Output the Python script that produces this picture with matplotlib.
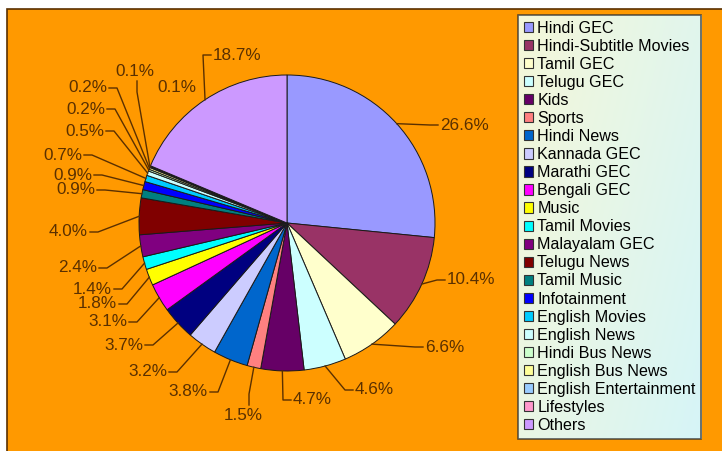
import numpy as np
import matplotlib
matplotlib.use("Agg")
import matplotlib.pyplot as plt
from matplotlib.patches import Patch, Rectangle

plt.rcParams['font.family'] = ['Liberation Sans', 'DejaVu Sans']

channels = ["Hindi GEC", "Hindi-Subtitle Movies", "Tamil GEC", "Telugu GEC", "Kids",
            "Sports", "Hindi News", "Kannada GEC", "Marathi GEC", "Bengali GEC", "Music",
            "Tamil Movies", "Malayalam GEC", "Telugu News", "Tamil Music", "Infotainment",
            "English Movies", "English News", "Hindi Bus News", "English Bus News",
            "English Entertainment", "Lifestyles", "Others"]
share = [26.6, 10.4, 6.6, 4.6, 4.7, 1.5, 3.8, 3.2, 3.7, 3.1, 1.8, 1.4, 2.4, 4.0,
         0.9, 0.9, 0.7, 0.5, 0.2, 0.2, 0.1, 0.1, 18.7]
colors = ["#9999FF", "#993366", "#FFFFCC", "#CCFFFF", "#660066", "#FF8080", "#0066CC",
          "#CCCCFF", "#000080", "#FF00FF", "#FFFF00", "#00FFFF", "#800080", "#800000",
          "#008080", "#0000FF", "#00CCFF", "#CCFFFF", "#CCFFCC", "#FFFF99", "#99CCFF",
          "#FF99CC", "#CC99FF"]

# label placement (pixels): x of the side facing the pie, y, side
label_pos = [(440, 125, "left"), (447, 280, "left"), (425, 347, "left"),
             (355, 390, "left"), (293, 400, "left"), (243, 416, "below"),
             (208, 392, "right"), (167, 372, "right"), (143, 345, "right"),
             (127, 322, "right"), (117, 304, "right"), (112, 289, "right"),
             (97, 268, "right"), (88, 232, "right"), (95, 190, "right"),
             (92, 175, "right"), (82, 155, "right"), (104, 131, "right"),
             (105, 109, "right"), (107, 88, "right"), (135, 72, "above"),
             (157, 88, "none"), (213, 55, "left")]

W, H = 722, 451
cx, cy, r = 287, 223, 148
txt_col = "#5a3000"
fs = 12.3

fig = plt.figure(figsize=(W / 100, H / 100), dpi=100, facecolor="white")
ax = fig.add_axes([0, 0, 1, 1])
ax.axis("off")

ax.add_patch(Rectangle((7, 9), W, H, facecolor="#FF9900", edgecolor="#5a3000",
                       lw=1.2, zorder=0))

wedges, _ = ax.pie(share, colors=colors, startangle=-90, counterclock=True,
                   center=(cx, cy), radius=r,
                   wedgeprops=dict(edgecolor="#1a1a1a", linewidth=0.7))
for w in wedges:
    w.set_zorder(2)

ax.set_xlim(0, W)
ax.set_ylim(H, 0)
ax.set_aspect("auto")

for w, v, (tx, ty, side) in zip(wedges, share, label_pos):
    mid = np.deg2rad((w.theta1 + w.theta2) / 2)
    ex, ey = cx + r * np.cos(mid), cy + r * np.sin(mid)
    s = f"{v:.1f}%"
    if side == "left":
        ax.text(tx, ty, s, ha="left", va="center", fontsize=fs, color=txt_col, zorder=3)
        ax.plot([ex, tx - 10, tx - 2], [ey, ty, ty], color=txt_col, lw=1, zorder=3)
    elif side == "right":
        ax.text(tx, ty, s, ha="right", va="center", fontsize=fs, color=txt_col, zorder=3)
        ax.plot([ex, tx + 10, tx + 2], [ey, ty, ty], color=txt_col, lw=1, zorder=3)
    elif side == "below":
        ax.text(tx, ty, s, ha="center", va="center", fontsize=fs, color=txt_col, zorder=3)
        ax.plot([ex, tx + 6, tx + 6], [ey, ty - 22, ty - 11], color=txt_col, lw=1, zorder=3)
    elif side == "above":
        ax.text(tx, ty, s, ha="center", va="center", fontsize=fs, color=txt_col, zorder=3)
        ax.plot([ex, tx + 2, tx + 2], [ey, ty + 20, ty + 9], color=txt_col, lw=1, zorder=3)
    else:
        ax.text(tx, ty, s, ha="left", va="center", fontsize=fs, color=txt_col, zorder=3)

handles = [Patch(facecolor=c, edgecolor="#333333", lw=0.8) for c in colors]
leg = ax.legend(handles, channels, loc="upper left", bbox_to_anchor=(518, 15),
                bbox_transform=ax.transData, fontsize=11.6, frameon=True, fancybox=False,
                handlelength=0.6, handleheight=0.6, handletextpad=0.25,
                labelspacing=0.19, borderpad=0.35, borderaxespad=0)
leg.get_frame().set_facecolor("none")
leg.get_frame().set_edgecolor("#333333")
leg.get_frame().set_linewidth(1.2)
leg.set_zorder(6)

# gradient fill behind the legend
fig.canvas.draw()
bb = leg.get_window_extent().transformed(ax.transData.inverted())
x0, x1 = sorted([bb.x0, bb.x1])
y0, y1 = sorted([bb.y0, bb.y1])
gx, gy = np.meshgrid(np.linspace(0, 1, 60), np.linspace(0, 1, 200))
t = np.clip(0.65 * gx + 0.35 * gy, 0, 1)[..., None]
c_a = np.array([0.96, 0.97, 0.85])
c_b = np.array([0.84, 0.96, 0.97])
grad = c_a * (1 - t) + c_b * t
ax.imshow(grad, extent=(x0, x1, y1, y0), origin="upper", zorder=5, aspect="auto")

ax.set_xlim(0, W)
ax.set_ylim(H, 0)
ax.set_aspect("auto")

fig.savefig("out.png", dpi=100, facecolor="white")
